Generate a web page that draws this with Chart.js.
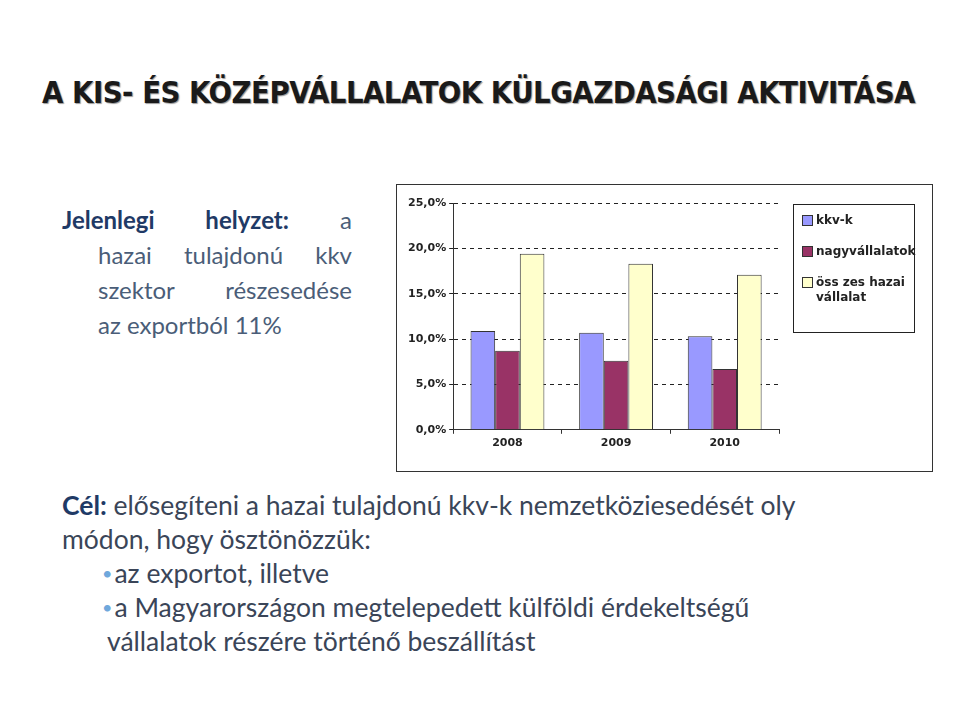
<!DOCTYPE html>
<html><head><meta charset="utf-8">
<script src="https://cdn.jsdelivr.net/npm/chart.js@4"></script>
<style>
body{margin:0;width:960px;height:720px;background:#fff;position:relative;overflow:hidden;font-family:Lato,"Open Sans",sans-serif;}
#title{position:absolute;left:42px;top:74px;font-family:"DejaVu Sans Condensed","DejaVu Sans";font-weight:bold;font-size:31px;color:#1a1a1a;letter-spacing:-0.5px;transform:scaleX(0.99);transform-origin:left;white-space:nowrap;text-shadow:1px 1px 1px #999;}
#left{position:absolute;left:62px;top:202px;width:290px;font-size:24px;line-height:35px;color:#4a5d78;}
#left div{text-align:justify;text-align-last:justify;white-space:nowrap}
#left b{color:#1f3a66}
#bottom{position:absolute;left:62px;top:488px;font-size:26.5px;line-height:34px;color:#3a4558;white-space:nowrap}
#bottom b{color:#1f3a66}
.bul::before{content:"•";color:#6fa8dc;margin-right:2px;font-size:18px;vertical-align:3px}
#box{position:absolute;left:396px;top:184px;width:535px;height:286px;border:1px solid #333;}
#wrap{position:absolute;left:0;top:0;width:400px;height:286px;}
#legend{position:absolute;left:396px;top:19px;width:122px;height:129px;border:1px solid #222;font-family:"DejaVu Sans",Arial;font-weight:bold;font-size:12px;color:#222;padding:8px 0 0 8px;box-sizing:border-box;}
#legend div{margin-bottom:16px;line-height:15px;padding-left:14px;position:relative}
#legend span{position:absolute;left:0;top:2px;width:9px;height:9px;border:1px solid #333}
</style></head><body>
<div id="title">A KIS- ÉS KÖZÉPVÁLLALATOK KÜLGAZDASÁGI AKTIVITÁSA</div>
<div id="left">
<div><b>Jelenlegi helyzet:</b> a</div>
<div style="margin-left:36px">hazai tulajdonú kkv</div>
<div style="margin-left:36px">szektor részesedése</div>
<div style="margin-left:36px;text-align-last:left">az exportból 11%</div>
</div>
<div id="bottom">
<div><b>Cél:</b> elősegíteni a hazai tulajdonú kkv-k nemzetköziesedését oly</div>
<div>módon, hogy ösztönözzük:</div>
<div class="bul" style="padding-left:40px">az exportot, illetve</div>
<div class="bul" style="padding-left:40px">a Magyarországon megtelepedett külföldi érdekeltségű</div>
<div style="padding-left:45px">vállalatok részére történő beszállítást</div>
</div>
<div id="box">
<div id="wrap"><canvas id="c"></canvas></div>
<div id="legend"></div>
</div>
<script>
const years = ['2008', '2009', '2010'];
const kkv = [10.9, 10.7, 10.3];
const nagy = [8.7, 7.6, 6.7];
const osszes = [19.4, 18.3, 17.1];
const seriesNames = ['kkv-k', 'nagyvállalatok', 'össszes hazai vállalat'];
const colors = ['#9999ff', '#993366', '#ffffcc'];

document.getElementById('legend').innerHTML = seriesNames.map((n, i) =>
  `<div><span style="background:${colors[i]}"></span>${i == 2 ? 'öss zes hazai<br>vállalat' : n}</div>`).join('');

const tickFont = { family: 'DejaVu Sans', weight: 'bold', size: 11 };
new Chart(document.getElementById('c'), {
  type: 'bar',
  data: {
    labels: years,
    datasets: [kkv, nagy, osszes].map((d, i) => ({
      label: seriesNames[i], data: d, backgroundColor: colors[i],
      borderColor: '#333', borderWidth: 1, categoryPercentage: 0.68, barPercentage: 1
    }))
  },
  options: {
    responsive: true, maintainAspectRatio: false, animation: false,
    layout: { padding: { top: 18, right: 18, bottom: 18, left: 8 } },
    plugins: { legend: { display: false }, tooltip: { enabled: false } },
    scales: {
      x: { grid: { display: true, drawOnChartArea: false, offset: true, color: '#333', tickLength: 4 },
           border: { color: '#333' }, ticks: { color: '#222', font: tickFont } },
      y: { min: 0, max: 25, ticks: { stepSize: 5, color: '#222', font: tickFont,
             callback: v => v.toFixed(1).replace('.', ',') + '%' },
           grid: { color: '#222', tickLength: 4 }, border: { color: '#333', dash: [4, 4] } }
    }
  }
});
</script>
</body></html>
